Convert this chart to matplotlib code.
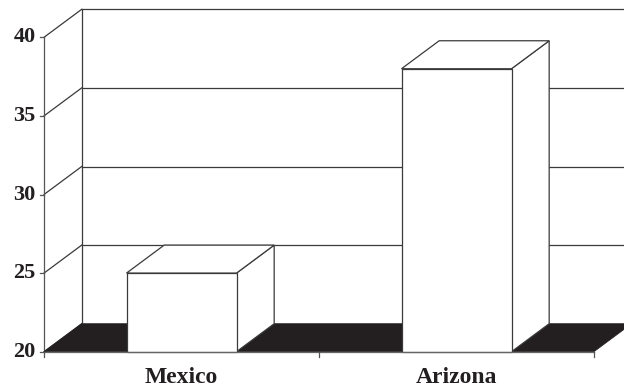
import matplotlib
matplotlib.use("Agg")
import matplotlib.pyplot as plt
from matplotlib.patches import Polygon

# Data
categories = ["Mexico", "Arizona"]
values = [25, 38]
y_ticks = [20, 25, 30, 35, 40]

# Layout of the pseudo-3D box (in data units)
y_min, y_max = 20, 40
bar_half = 0.2          # half bar width, in category units
depth_x = 0.137         # oblique depth offset along x
depth_y = 1.78          # oblique depth offset along y

line_col = "#3a3a3a"
floor_col = "#231f20"
font = dict(family="Liberation Serif", weight="bold", color="#231f20")

W, H = 624, 389
fig = plt.figure(figsize=(W / 100, H / 100), dpi=100)
ax = fig.add_axes([0, 0, 1, 1])
ax.set_axis_off()

px_per_cat = 275.0
px_per_unit = 15.72
x0_px, y0_px = 44.0, 351.7
ax.set_xlim(-x0_px / px_per_cat, (W - x0_px) / px_per_cat)
ax.set_ylim(y_min - (H - y0_px) / px_per_unit, y_min + y0_px / px_per_unit)

n = len(categories)
lw = 0.9

# back wall gridlines and left wall diagonals
for v in y_ticks:
    ax.plot([depth_x, n + depth_x], [v + depth_y, v + depth_y], color=line_col, lw=lw, zorder=1)
    ax.plot([0, depth_x], [v, v + depth_y], color=line_col, lw=lw, zorder=1)
ax.plot([depth_x, depth_x], [y_min + depth_y, y_max + depth_y], color=line_col, lw=lw, zorder=1)

# left front axis with ticks
ax.plot([0, 0], [y_min, y_max], color="#555555", lw=lw, zorder=2)
for v in y_ticks:
    ax.plot([-4.5 / px_per_cat, 0], [v, v], color="#555555", lw=lw, zorder=2)
    ax.text(-8.5 / px_per_cat, v, str(v), ha="right", va="center", fontsize=16, **font)

# floor
floor = Polygon([(0, y_min), (n, y_min), (n + depth_x, y_min + depth_y), (depth_x, y_min + depth_y)],
                closed=True, facecolor=floor_col, edgecolor=floor_col, lw=0.5, zorder=3)
ax.add_patch(floor)

# bars
for i, v in enumerate(values):
    c = i + 0.5
    l, r = c - bar_half, c + bar_half
    front = [(l, y_min), (r, y_min), (r, v), (l, v)]
    side = [(r, y_min), (r + depth_x, y_min + depth_y), (r + depth_x, v + depth_y), (r, v)]
    top = [(l, v), (r, v), (r + depth_x, v + depth_y), (l + depth_x, v + depth_y)]
    for pts in (side, top, front):
        ax.add_patch(Polygon(pts, closed=True, facecolor="white", edgecolor=line_col,
                             lw=lw, joinstyle="miter", zorder=4))
    ax.text(c, y_min - 25.5 / px_per_unit, categories[i], ha="center", va="center",
            fontsize=17, **font)

# front x-axis line with ticks
ax.plot([0, n], [y_min, y_min], color="#666666", lw=lw, zorder=5)
for k in range(n + 1):
    ax.plot([k, k], [y_min, y_min - 5 / px_per_unit], color="#555555", lw=lw, zorder=5)

fig.savefig("out.png", dpi=100, facecolor="white")
